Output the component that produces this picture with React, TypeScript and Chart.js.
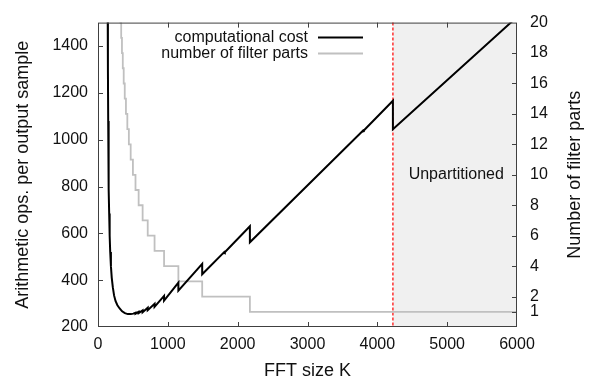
import { useEffect, useRef } from 'react';
import { Chart, registerables } from 'chart.js';

Chart.register(...registerables);

// ---- data ----
const costK = [139, 142, 146, 150, 155, 160, 167, 175, 185, 197, 212, 230, 252, 278, 310, 345, 385, 427, 470, 505, 537, 537, 582, 582, 639, 639, 712, 712, 810, 810, 946, 946, 1151, 1151, 1492, 1492, 1810, 1816, 2175, 2175, 3800, 3806, 4223, 4223, 6000];
const costOps = [1540, 1300, 1080, 930, 790, 685, 590, 520, 460, 410, 370, 335, 310, 293, 279, 267, 259, 255, 255, 257, 261, 257, 265, 259, 271, 263, 282, 272, 299, 286, 333, 313, 390, 355, 470, 425, 521, 519, 630, 562, 1040, 1039, 1166, 1045, 1524];

const partsK = [313, 322, 332, 343, 355, 368, 383, 400, 420, 442, 468, 500, 537, 582, 639, 712, 810, 946, 1151, 1492, 2175, 4223, 6000];
const partsN = [22, 21, 20, 19, 18, 17, 16, 15, 14, 13, 12, 11, 10, 9, 8, 7, 6, 5, 4, 3, 2, 1, 1];

const xTickValues = [0, 1000, 2000, 3000, 4000, 5000, 6000];
const leftTickValues = [200, 400, 600, 800, 1000, 1200, 1400];
const rightTickValues = [1, 2, 4, 6, 8, 10, 12, 14, 16, 18, 20];
const unpartitionedFrom = 4223;

const seriesNames = ['computational cost', 'number of filter parts'];
const xTitle = 'FFT size K';
const leftTitle = 'Arithmetic ops. per output sample';
const rightTitle = 'Number of filter parts';
const regionLabel = 'Unpartitioned';

const FONT = '"Liberation Sans", Arial, Helvetica, sans-serif';
const INK = '#111111';
const FRAME = '#404040';
const BLACK_LINE = '#000000';
const GRAY_LINE = '#c0c0c0';

const overlay = {
  id: 'overlay',
  beforeDatasetsDraw(chart: any) {
    const { ctx, chartArea: a, scales } = chart;
    const xs = scales.x.getPixelForValue(unpartitionedFrom);
    ctx.save();
    ctx.fillStyle = '#f0f0f0';
    ctx.fillRect(xs, a.top, a.right - xs, a.bottom - a.top);
    ctx.strokeStyle = '#ff3030';
    ctx.lineWidth = 1.5;
    ctx.setLineDash([3, 2]);
    ctx.beginPath();
    ctx.moveTo(xs, a.top);
    ctx.lineTo(xs, a.bottom);
    ctx.stroke();
    ctx.setLineDash([]);
    ctx.fillStyle = INK;
    ctx.font = `16px ${FONT}`;
    ctx.textAlign = 'center';
    ctx.textBaseline = 'middle';
    ctx.fillText(regionLabel, scales.x.getPixelForValue(5130), scales.y2.getPixelForValue(10));
    ctx.restore();
  },
  afterDatasetsDraw(chart: any) {
    const { ctx, chartArea: a, scales } = chart;
    ctx.save();
    // frame
    ctx.strokeStyle = FRAME;
    ctx.lineWidth = 1;
    ctx.strokeRect(a.left + 0.5, a.top + 0.5, a.right - a.left - 1, a.bottom - a.top - 1);
    // inward ticks
    const tl = 5;
    ctx.beginPath();
    xTickValues.slice(1, -1).forEach((v) => {
      const px = Math.round(scales.x.getPixelForValue(v)) + 0.5;
      ctx.moveTo(px, a.bottom);
      ctx.lineTo(px, a.bottom - tl);
      ctx.moveTo(px, a.top);
      ctx.lineTo(px, a.top + tl);
    });
    leftTickValues.slice(1).forEach((v) => {
      const py = Math.round(scales.y.getPixelForValue(v)) + 0.5;
      ctx.moveTo(a.left, py);
      ctx.lineTo(a.left + tl, py);
    });
    rightTickValues.slice(0, -1).forEach((v) => {
      const py = Math.round(scales.y2.getPixelForValue(v)) + 0.5;
      ctx.moveTo(a.right, py);
      ctx.lineTo(a.right - tl, py);
    });
    ctx.stroke();

    // legend
    ctx.font = `16px ${FONT}`;
    ctx.fillStyle = INK;
    ctx.textAlign = 'right';
    ctx.textBaseline = 'middle';
    const rows = [
      { y: 37.5, color: BLACK_LINE, w: 2 },
      { y: 53.5, color: GRAY_LINE, w: 1.8 },
    ];
    rows.forEach((r, i) => {
      ctx.fillText(seriesNames[i], 308, r.y);
      ctx.strokeStyle = r.color;
      ctx.lineWidth = r.w;
      ctx.beginPath();
      ctx.moveTo(318, r.y);
      ctx.lineTo(363, r.y);
      ctx.stroke();
    });

    // axis titles
    ctx.font = `18px ${FONT}`;
    ctx.textAlign = 'center';
    ctx.textBaseline = 'alphabetic';
    ctx.fillText(xTitle, (a.left + a.right) / 2, 375.5);
    const cy = (a.top + a.bottom) / 2;
    ctx.save();
    ctx.translate(28, cy);
    ctx.rotate(-Math.PI / 2);
    ctx.fillText(leftTitle, 0, 0);
    ctx.restore();
    ctx.save();
    ctx.translate(580, cy);
    ctx.rotate(-Math.PI / 2);
    ctx.fillText(rightTitle, 0, 0);
    ctx.restore();
    ctx.restore();
  },
};

export default function App() {
  const ref = useRef<HTMLCanvasElement | null>(null);
  useEffect(() => {
    if (!ref.current) return;
    const tickFont = { family: FONT, size: 16 };
    const plain = (v: any) => String(v);
    const chart = new Chart(ref.current, {
      type: 'line',
      data: {
        datasets: [
          {
            label: seriesNames[0],
            data: costK.map((k, i) => ({ x: k, y: costOps[i] })),
            borderColor: BLACK_LINE,
            borderWidth: 2,
            pointRadius: 0,
            tension: 0,
            yAxisID: 'y',
            clip: 0,
          },
          {
            label: seriesNames[1],
            data: partsK.map((k, i) => ({ x: k, y: partsN[i] })),
            borderColor: GRAY_LINE,
            borderWidth: 1.8,
            pointRadius: 0,
            stepped: 'after',
            yAxisID: 'y2',
            clip: 0,
          },
        ],
      },
      options: {
        animation: false,
        responsive: false,
        devicePixelRatio: 1,
        layout: { padding: { top: 12, left: 0, right: 0, bottom: 0 } },
        plugins: { legend: { display: false }, tooltip: { enabled: false } },
        scales: {
          x: {
            type: 'linear',
            min: 0,
            max: 6000,
            grid: { display: false, drawTicks: false },
            border: { display: false },
            afterBuildTicks: (s: any) => {
              s.ticks = xTickValues.map((v) => ({ value: v }));
            },
            afterFit: (s: any) => {
              s.height = 56;
            },
            ticks: { padding: 8, font: tickFont, color: INK, maxRotation: 0, autoSkip: false, callback: plain },
          },
          y: {
            type: 'linear',
            position: 'left',
            min: 200,
            max: 1500,
            grid: { display: false, drawTicks: false },
            border: { display: false },
            afterBuildTicks: (s: any) => {
              s.ticks = leftTickValues.map((v) => ({ value: v }));
            },
            afterFit: (s: any) => {
              s.width = 98;
            },
            ticks: { padding: 10, font: tickFont, color: INK, autoSkip: false, callback: plain },
          },
          y2: {
            type: 'linear',
            position: 'right',
            min: 0,
            max: 20,
            grid: { display: false, drawTicks: false },
            border: { display: false },
            afterBuildTicks: (s: any) => {
              s.ticks = rightTickValues.map((v) => ({ value: v }));
            },
            afterFit: (s: any) => {
              s.width = 75;
            },
            ticks: { padding: 13, font: tickFont, color: INK, autoSkip: false, callback: plain },
          },
        },
      },
      plugins: [overlay],
    });
    return () => chart.destroy();
  }, []);
  return (
    <div style={{ position: 'absolute', left: 0, top: 0, width: 592, height: 383, background: '#fff' }}>
      <canvas ref={ref} width={592} height={383} />
    </div>
  );
}
